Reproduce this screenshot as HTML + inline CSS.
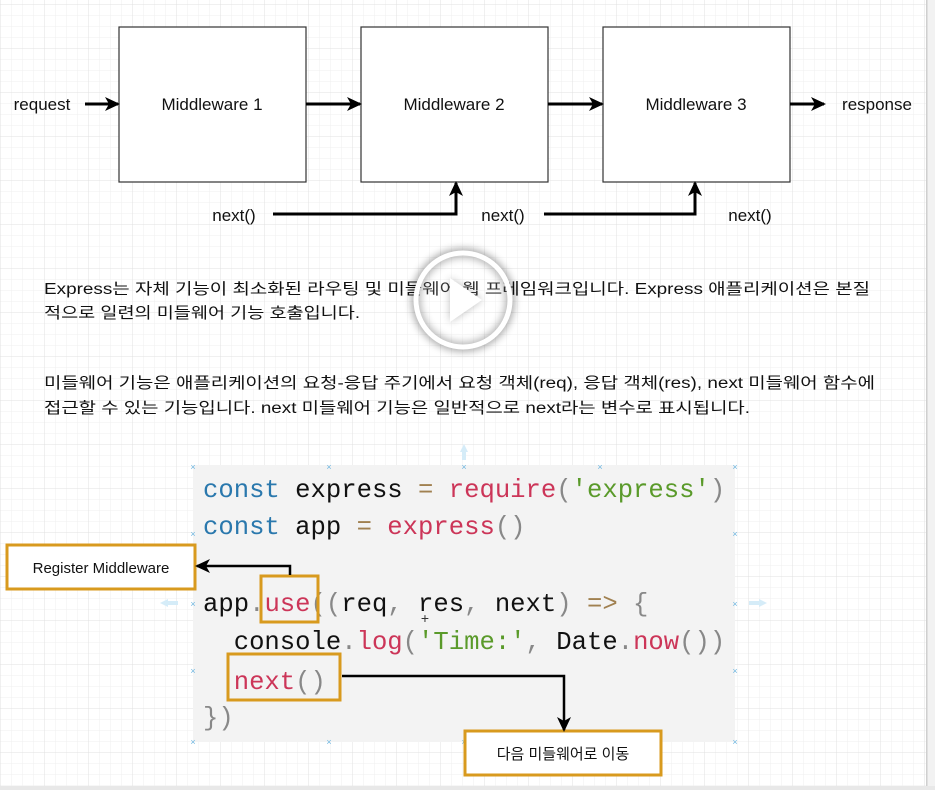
<!DOCTYPE html>
<html><head><meta charset="utf-8">
<style>
html,body{margin:0;padding:0;background:#fff;}
svg{display:block;}
.t{font-family:"Liberation Sans","Noto Sans CJK KR",sans-serif;fill:#111;}
.c{font-family:"Liberation Mono",monospace;font-size:25.6px;}
</style></head>
<body>
<svg width="935" height="790" viewBox="0 0 935 790" xmlns="http://www.w3.org/2000/svg">
<defs>
<pattern id="minor" width="11" height="11" patternUnits="userSpaceOnUse" x="1" y="5">
<path d="M11 0V11M0 11H11" fill="none" stroke="#efefef" stroke-width="1"/>
</pattern>
<pattern id="major" width="44" height="44" patternUnits="userSpaceOnUse" x="1" y="5">
<path d="M44 0V44M0 44H44" fill="none" stroke="#e0e0e0" stroke-width="1"/>
</pattern>
<marker id="ah" markerWidth="16" markerHeight="16" refX="13" refY="8" orient="auto" markerUnits="userSpaceOnUse">
<path d="M0,1 L15,8 L0,15 L4,8 Z" fill="#000"/>
</marker>
<filter id="sh" x="-50%" y="-50%" width="200%" height="200%">
<feGaussianBlur stdDeviation="4"/>
</filter>
</defs>
<rect width="935" height="790" fill="#fff"/>
<rect width="935" height="790" fill="url(#minor)"/>
<rect width="935" height="790" fill="url(#major)"/>
<rect x="926" y="0" width="9" height="790" fill="#f2f2f2"/>
<rect x="926" y="0" width="1.5" height="790" fill="#cfcfcf"/>
<rect x="0" y="786" width="935" height="4" fill="#e8e8e8"/>

<!-- top diagram -->
<g fill="#fff" stroke="#333" stroke-width="1.2">
<rect x="119" y="27" width="187" height="155"/>
<rect x="361" y="27" width="187" height="155"/>
<rect x="603" y="27" width="187" height="155"/>
</g>
<g class="t" font-size="17" text-anchor="middle">
<text x="212" y="110">Middleware 1</text>
<text x="454" y="110">Middleware 2</text>
<text x="696" y="110">Middleware 3</text>
<text x="42" y="110">request</text>
<text x="877" y="110">response</text>
<text x="234" y="221">next()</text>
<text x="503" y="221">next()</text>
<text x="750" y="221">next()</text>
</g>
<g stroke="#000" stroke-width="3" fill="none" marker-end="url(#ah)">
<line x1="85" y1="104" x2="118" y2="104"/>
<line x1="306" y1="104" x2="360" y2="104"/>
<line x1="548" y1="104" x2="602" y2="104"/>
<line x1="790" y1="104" x2="824" y2="104"/>
<path d="M273 214 H456 V183"/>
<path d="M544 214 H695 V183"/>
</g>

<!-- paragraphs -->
<g class="t" font-size="15.5">
<text x="44" y="294" textLength="826" lengthAdjust="spacingAndGlyphs">Express는 자체 기능이 최소화된 라우팅 및 미들웨어 웹 프레임워크입니다. Express 애플리케이션은 본질</text>
<text x="44" y="318" textLength="316" lengthAdjust="spacingAndGlyphs">적으로 일련의 미들웨어 기능 호출입니다.</text>
<text x="44" y="388" textLength="831" lengthAdjust="spacingAndGlyphs">미들웨어 기능은 애플리케이션의 요청-응답 주기에서 요청 객체(req), 응답 객체(res), next 미들웨어 함수에</text>
<text x="44" y="413" textLength="706" lengthAdjust="spacingAndGlyphs">접근할 수 있는 기능입니다. next 미들웨어 기능은 일반적으로 next라는 변수로 표시됩니다.</text>
</g>

<!-- play button -->
<circle cx="463" cy="300" r="47" fill="none" stroke="#000" stroke-width="9" opacity="0.35" filter="url(#sh)"/>
<path d="M450 278 L482 300 L450 322 Z" fill="#000" opacity="0.3" filter="url(#sh)"/>
<circle cx="463" cy="300" r="47" fill="rgba(255,255,255,0.15)" stroke="#fff" stroke-width="5"/>
<path d="M450 278 L482 300 L450 322 Z" fill="#fff"/>

<!-- code block -->
<rect x="193" y="465" width="542" height="277" fill="#f3f3f3"/>
<g fill="#6fb6e0" font-family="Liberation Sans,sans-serif" font-size="9" text-anchor="middle">
<text x="193" y="470">×</text><text x="329" y="470">×</text><text x="464" y="470">×</text><text x="600" y="470">×</text><text x="735" y="470">×</text>
<text x="193" y="537">×</text><text x="735" y="537">×</text>
<text x="193" y="607">×</text><text x="735" y="607">×</text>
<text x="193" y="674">×</text><text x="735" y="674">×</text>
<text x="193" y="745">×</text><text x="329" y="745">×</text><text x="464" y="745">×</text><text x="600" y="745">×</text><text x="735" y="745">×</text>
</g>
<g fill="#d5ecf8">
<path d="M460 452 L464 444 L468 452 Z M462 452 H466 V460 H462 Z"/>
<path d="M160 603 L168 599 L168 607 Z M168 601 H178 V605 H168 Z"/>
<path d="M767 603 L759 599 L759 607 Z M749 601 H759 V605 H749 Z"/>
</g>
<g class="c">
<text x="203" y="497"><tspan fill="#2a78ad">const</tspan><tspan fill="#111"> express </tspan><tspan fill="#a08050">=</tspan><tspan fill="#cc3558"> require</tspan><tspan fill="#888">(</tspan><tspan fill="#5a9a2a">'express'</tspan><tspan fill="#888">)</tspan></text>
<text x="203" y="534"><tspan fill="#2a78ad">const</tspan><tspan fill="#111"> app </tspan><tspan fill="#a08050">=</tspan><tspan fill="#cc3558"> express</tspan><tspan fill="#888">()</tspan></text>
<text x="203" y="611"><tspan fill="#111">app</tspan><tspan fill="#888">.</tspan><tspan fill="#cc3558">use</tspan><tspan fill="#888">((</tspan><tspan fill="#111">req</tspan><tspan fill="#888">, </tspan><tspan fill="#111">res</tspan><tspan fill="#888">, </tspan><tspan fill="#111">next</tspan><tspan fill="#888">) </tspan><tspan fill="#a08050">=&gt;</tspan><tspan fill="#888"> {</tspan></text>
<text x="203" y="649" xml:space="preserve"><tspan fill="#111">  console</tspan><tspan fill="#888">.</tspan><tspan fill="#cc3558">log</tspan><tspan fill="#888">(</tspan><tspan fill="#5a9a2a">'Time:'</tspan><tspan fill="#888">, </tspan><tspan fill="#111">Date</tspan><tspan fill="#888">.</tspan><tspan fill="#cc3558">now</tspan><tspan fill="#888">())</tspan></text>
<text x="203" y="689" xml:space="preserve"><tspan fill="#cc3558">  next</tspan><tspan fill="#888">()</tspan></text>
<text x="203" y="725" fill="#888">})</text>
</g>
<text x="425" y="623" font-family="Liberation Sans,sans-serif" font-size="14" fill="#333" text-anchor="middle">+</text>

<!-- annotations -->
<g fill="none" stroke="#d89a1e" stroke-width="3">
<rect x="261" y="576" width="57" height="46"/>
<rect x="228" y="654" width="112" height="46"/>
</g>
<rect x="7" y="545" width="188" height="44" fill="#fff" stroke="#d89a1e" stroke-width="3"/>
<rect x="465" y="731" width="196" height="44" fill="#fff" stroke="#d89a1e" stroke-width="3"/>
<text class="t" x="101" y="573" font-size="15" text-anchor="middle">Register Middleware</text>
<text class="t" x="563" y="759" font-size="15" text-anchor="middle">다음 미들웨어로 이동</text>
<g stroke="#000" stroke-width="2.5" fill="none" marker-end="url(#ah)">
<path d="M290 575 V566 H197"/>
<path d="M342 676 H564 V730"/>
</g>
</svg>
</body></html>
